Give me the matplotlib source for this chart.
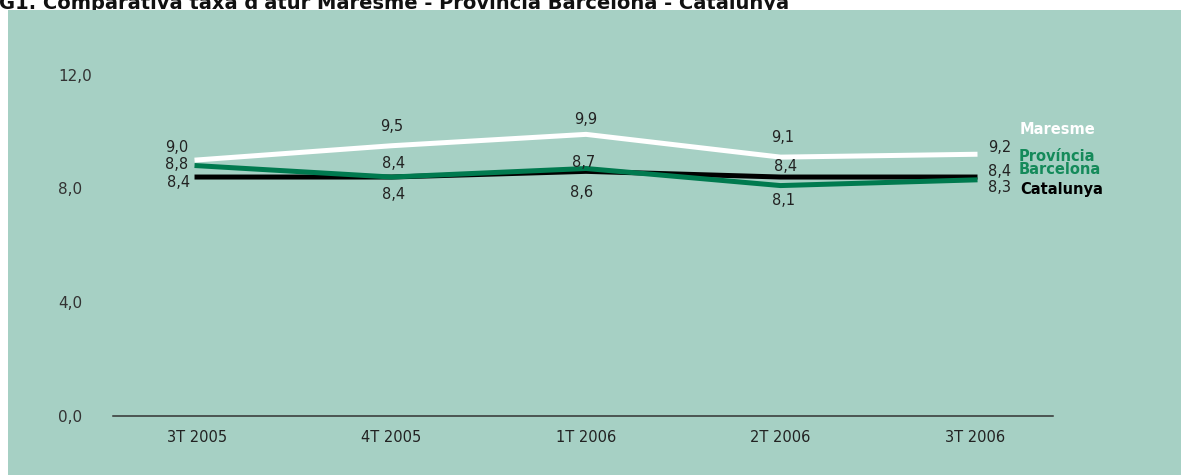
import matplotlib
matplotlib.use('Agg')
import matplotlib.pyplot as plt
from matplotlib.patches import Rectangle

# dades
periodes = ['3T 2005', '4T 2005', '1T 2006', '2T 2006', '3T 2006']
maresme = [9.0, 9.5, 9.9, 9.1, 9.2]
provincia = [8.8, 8.4, 8.7, 8.1, 8.3]
catalunya = [8.4, 8.4, 8.6, 8.4, 8.4]
eix_y = [0, 4, 8, 12]

fons = '#a6d0c4'
verd = '#007a4f'
text_fosc = '#222222'


def px(v):
    # pixels -> punts (dpi 100)
    return v * 0.72


def fmt(v):
    return f"{v:.1f}".replace('.', ',')


fig = plt.figure(figsize=(11.81, 4.75), dpi=100)
fig.patch.set_facecolor('white')

# titol (queda tallat per dalt com a l'original)
fig.text(-0.001, 1 - 9 / 475, "G1. Comparativa taxa d'atur Maresme - Província Barcelona - Catalunya",
         fontsize=14, fontweight='bold', family='DejaVu Sans', color='#111111',
         ha='left', va='baseline', zorder=0)

# panell verd de fons
fig.patches.append(Rectangle((8 / 1181, 0), 1, 1 - 10 / 475, transform=fig.transFigure,
                             facecolor=fons, edgecolor='none', zorder=1))

ax = fig.add_axes([113 / 1181, (475 - 416) / 475, 940 / 1181, 355.6 / 475])
ax.set_zorder(2)
ax.patch.set_alpha(0)

x = list(range(len(periodes)))
ax.plot(x, catalunya, color='black', lw=3.6, solid_joinstyle='miter', zorder=3)
ax.plot(x, provincia, color=verd, lw=3.6, solid_joinstyle='miter', zorder=4)
ax.plot(x, maresme, color='white', lw=3.6, solid_joinstyle='miter', zorder=5)

ax.set_xlim(-0.432, 4.401)
ax.set_ylim(0, 12.5)

# etiquetes de valor (desplacament en pixels)
desp = {
    'maresme': [(-20, 12), (0, 19), (0, 15), (2, 20), (13, 7)],
    'provincia': [(-20, 1), (2, -17), (-2, 6), (3, -15), (13, -8)],
    'catalunya': [(-18, -5), (2, 14), (-4, -21), (5, 11), (13, 6)],
}
for nom, serie in [('maresme', maresme), ('provincia', provincia), ('catalunya', catalunya)]:
    for i, v in enumerate(serie):
        dx, dy = desp[nom][i]
        ha = 'left' if i == len(serie) - 1 else 'center'
        ax.annotate(fmt(v), (i, v), xytext=(px(dx), px(dy)), textcoords='offset points',
                    ha=ha, va='center', fontsize=10.5, color=text_fosc, zorder=6)

# noms de les series
ax.text(0.965, 0.807, 'Maresme', transform=ax.transAxes, color='white',
        fontsize=10.5, fontweight='bold', va='center', ha='left')
ax.text(0.963, 0.731, 'Província', transform=ax.transAxes, color='#148a5a',
        fontsize=10.5, fontweight='bold', va='center', ha='left')
ax.text(0.963, 0.692, 'Barcelona', transform=ax.transAxes, color='#148a5a',
        fontsize=10.5, fontweight='bold', va='center', ha='left')
ax.text(0.965, 0.636, 'Catalunya', transform=ax.transAxes, color='black',
        fontsize=10.5, fontweight='bold', va='center', ha='left')

# eixos
for s in ['top', 'right', 'left']:
    ax.spines[s].set_visible(False)
ax.spines['bottom'].set_color('#333333')
ax.spines['bottom'].set_linewidth(1.1)

ax.set_xticks(x)
ax.set_xticklabels(periodes, fontsize=10.5, color=text_fosc)
ax.set_yticks(eix_y)
ax.set_yticklabels([fmt(v) for v in eix_y], fontsize=11, color='#333333')
ax.tick_params(axis='x', length=0, pad=10)
ax.tick_params(axis='y', length=0, pad=px(55))
for lab in ax.get_yticklabels():
    lab.set_ha('left')

fig.savefig('out.png', dpi=100, facecolor=fig.get_facecolor())
